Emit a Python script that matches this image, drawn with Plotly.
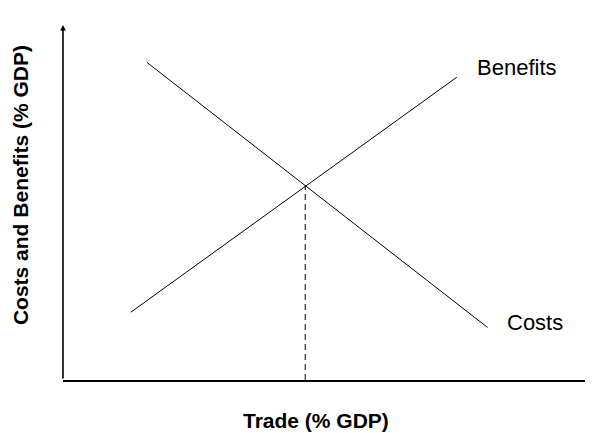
import plotly.graph_objects as go

# Data (arbitrary units: Trade % GDP on x, Costs/Benefits % GDP on y)
costs_x = [1.58, 8.01]
costs_y = [8.95, 1.48]
benefits_x = [1.28, 7.43]
benefits_y = [1.91, 8.53]
equilibrium_x = [4.57, 4.57]
equilibrium_y = [0.0, 5.47]
label_names = ["Benefits", "Costs"]
label_x = [7.77, 8.34]
label_y = [8.79, 1.61]
x_title = "Trade (% GDP)"
y_title = "Costs and Benefits (% GDP)"

FONT = "Arial, Liberation Sans, sans-serif"

fig = go.Figure()
fig.add_trace(go.Scatter(x=costs_x, y=costs_y, mode="lines",
                         line=dict(color="black", width=1), name="Costs"))
fig.add_trace(go.Scatter(x=benefits_x, y=benefits_y, mode="lines",
                         line=dict(color="black", width=1), name="Benefits"))
fig.add_trace(go.Scatter(x=equilibrium_x, y=equilibrium_y, mode="lines",
                         line=dict(color="black", width=1, dash="6px,4px"),
                         name="Equilibrium"))

annotations = []
for name, lx, ly in zip(label_names, label_x, label_y):
    annotations.append(dict(x=lx, y=ly, xref="x", yref="y", text=name,
                            showarrow=False, xanchor="left", yanchor="middle",
                            font=dict(family=FONT, size=22, color="black")))
# y-axis with arrowhead
annotations.append(dict(x=0, y=10, xref="x", yref="y", ax=0, ay=0,
                        axref="x", ayref="y", text="", showarrow=True,
                        arrowhead=2, arrowsize=0.7, arrowwidth=1.6,
                        arrowcolor="black", standoff=0))
annotations.append(dict(x=0.471, y=-0.113, xref="paper", yref="paper",
                        text="<b>" + x_title + "</b>", showarrow=False,
                        xanchor="center", yanchor="middle",
                        font=dict(family=FONT, size=21, color="black")))
annotations.append(dict(x=-0.080, y=0.549, xref="paper", yref="paper",
                        text="<b>" + y_title + "</b>", showarrow=False,
                        textangle=-90, xanchor="center", yanchor="middle",
                        font=dict(family=FONT, size=21, color="black")))

fig.update_layout(
    width=593, height=433,
    margin=dict(l=55, r=0, t=17, b=61),
    paper_bgcolor="white", plot_bgcolor="white",
    showlegend=False,
    annotations=annotations,
    xaxis=dict(range=[0, 10.15], showgrid=False, zeroline=False,
               showticklabels=False, ticks="", showline=True,
               linecolor="black", linewidth=1.6, mirror=False),
    yaxis=dict(range=[0, 10], showgrid=False, zeroline=False,
               showticklabels=False, ticks="", showline=False),
)

fig.write_html("out.html")
